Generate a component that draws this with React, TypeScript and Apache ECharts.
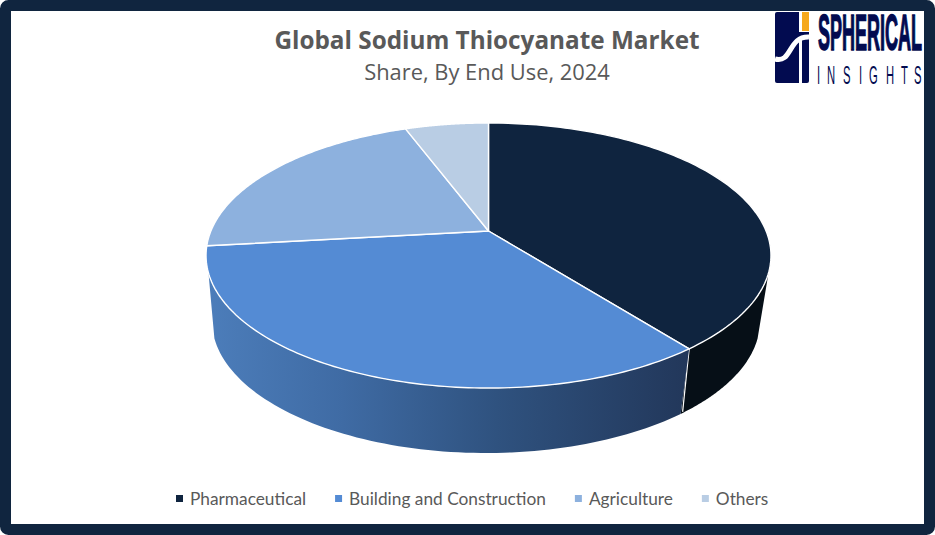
import React, { useEffect, useRef } from "react";
import * as echarts from "echarts";

const categories = ["Pharmaceutical", "Building and Construction", "Agriculture", "Others"];
const shares = [39.4, 33.8, 21.1, 5.7];
const topColors = ["#0f243f", "#548bd4", "#8db1de", "#b9cde4"];
const titleText = "Global Sodium Thiocyanate Market";
const subtitleText = "Share, By End Use, 2024";
const logoLetters = ["I", "N", "S", "I", "G", "H", "T", "S"];
const logoLetterX = [817, 827, 843, 859, 869, 886, 901, 914];

const NAVY = "#10253f";
const LOGO = "#020b50";
// Perspective projection of the pie disc
const apex = { x: 488.5, y: 231 };
const top = { cx: 488.5, cy: 255.5, rx: 282.5, ry: 132.5 };
const bot = { cx: 486, cy: 321, rx: 274, ry: 132 };
const K = -0.185;
const A = 277.6;
const B = 128;
const PHI_MIN = 97.6;
const PHI_MAX = 262.4;
const rad = (d: number) => (d * Math.PI) / 180;

function project(deg: number): number[] {
  const u = Math.sin(rad(deg));
  const v = -Math.cos(rad(deg));
  const w = 1 + K * v;
  return [apex.x + (A * u) / w, apex.y + (B * v) / w];
}
function phiOf(deg: number): number {
  if (deg >= 360) return 360;
  const p = project(deg);
  const a = (Math.atan2((p[0] - top.cx) / top.rx, -(p[1] - top.cy) / top.ry) * 180) / Math.PI;
  return a < 0 ? a + 360 : a;
}
const ell = (e: typeof top, phi: number) => [e.cx + e.rx * Math.sin(rad(phi)), e.cy - e.ry * Math.cos(rad(phi))];

const total = shares.reduce((s, v) => s + v, 0);
const startDeg = (i: number) => (shares.slice(0, i).reduce((s, v) => s + v, 0) / total) * 360;

const sideFill = [
  "#060f17",
  new echarts.graphic.LinearGradient(0, 0, 1, 0, [
    { offset: 0, color: "#4c7dba" },
    { offset: 0.28, color: "#3f6ba4" },
    { offset: 0.6, color: "#2f527f" },
    { offset: 1, color: "#22375a" },
  ]),
];

function renderSlice(i: number) {
  return () => {
    const a = startDeg(i);
    const b = startDeg(i + 1);
    const children: any[] = [];
    const p0 = Math.max(phiOf(a), PHI_MIN);
    const p1 = Math.min(phiOf(b), PHI_MAX);
    if (p1 > p0 && a < 270) {
      const pts: number[][] = [];
      const n = 80;
      for (let j = 0; j <= n; j++) pts.push(ell(top, p0 + ((p1 - p0) * j) / n));
      for (let j = n; j >= 0; j--) pts.push(ell(bot, p0 + ((p1 - p0) * j) / n));
      children.push({
        type: "polygon",
        shape: { points: pts },
        style: { fill: sideFill[i], lineWidth: 0 },
      });
      // seam between the side walls
      if (i === 0) {
        children.push({
          type: "line",
          z2: 5,
          shape: { x1: ell(top, p1)[0], y1: ell(top, p1)[1], x2: ell(bot, p1)[0] + 2, y2: ell(bot, p1)[1] - 2 },
          style: { stroke: "#ffffff", lineWidth: 1.2 },
        });
      }
    }
    const arc: number[][] = [[apex.x, apex.y]];
    const steps = 120;
    for (let j = 0; j <= steps; j++) arc.push(project(a + ((b - a) * j) / steps));
    children.push({
      type: "polygon",
      z2: 10,
      shape: { points: arc },
      style: { fill: topColors[i], stroke: "#ffffff", lineWidth: 1.4, lineJoin: "round" },
    });
    return { type: "group", children };
  };
}

export default function App() {
  const ref = useRef<HTMLDivElement>(null);
  useEffect(() => {
    const chart = echarts.init(ref.current!, undefined, { renderer: "svg" });
    chart.setOption({
      animation: false,
      backgroundColor: "#ffffff",
      title: [
        {
          text: titleText,
          left: 482,
          top: 22,
          textAlign: "center",
          textStyle: { fontFamily: "Open Sans", fontSize: 24.3, fontWeight: "bold", color: "#595959" },
        },
        {
          text: subtitleText,
          left: 482,
          top: 55,
          textAlign: "center",
          textStyle: { fontFamily: "Open Sans", fontSize: 21.9, fontWeight: "normal", color: "#595959" },
        },
      ],
      legend: {
        left: 171,
        top: 485,
        itemWidth: 7,
        itemHeight: 7,
        itemGap: 29,
        icon: "rect",
        data: categories,
        selectedMode: false,
        textStyle: { fontFamily: "Lato", fontSize: 17.3, color: "#595959", padding: [0, 0, 0, 2] },
      },
      series: categories.map((name, i) => ({
        type: "custom",
        name,
        coordinateSystem: "none",
        silent: true,
        z: 2 + i,
        itemStyle: { color: topColors[i] },
        data: [{ name, value: shares[i] }],
        renderItem: renderSlice(i),
      })),
      graphic: [
        {
          type: "rect",
          z: 1,
          silent: true,
          shape: { x: 5.5, y: 5.5, width: 924, height: 524, r: 3 },
          style: { fill: "none", stroke: NAVY, lineWidth: 11 },
        },
        { type: "rect", z: 20, shape: { x: 775, y: 12, width: 34, height: 71, r: 2 }, style: { fill: LOGO } },
        { type: "rect", z: 21, shape: { x: 799, y: 11, width: 10, height: 21 }, style: { fill: "#ffffff" } },
        { type: "rect", z: 22, shape: { x: 802, y: 12, width: 7, height: 19 }, style: { fill: "#f5a81c" } },
        { type: "rect", z: 21, shape: { x: 799, y: 38, width: 3, height: 46 }, style: { fill: "#ffffff" } },
        {
          type: "bezierCurve",
          z: 22,
          shape: { x1: 775, y1: 59, cpx1: 792, cpy1: 64, cpx2: 788, cpy2: 36, x2: 809, y2: 37 },
          style: { stroke: "#ffffff", lineWidth: 5, fill: "none" },
        },
        {
          type: "text",
          z: 22,
          x: 818,
          y: 8,
          scaleX: 0.36,
          style: { text: "SPHERICAL", fontFamily: "Liberation Sans", fontSize: 50, fontWeight: "bold", fill: LOGO, stroke: LOGO, lineWidth: 1.5 },
        },
        ...logoLetters.map((ch, i) => ({
          type: "text",
          z: 22,
          x: logoLetterX[i],
          y: 62,
          scaleX: 0.45,
          style: { text: ch, fontFamily: "Liberation Sans", fontSize: 25, fill: LOGO },
        })),
      ],
    });
    return () => chart.dispose();
  }, []);
  return <div ref={ref} style={{ position: "fixed", left: 0, top: 0, width: 935, height: 535 }} />;
}
